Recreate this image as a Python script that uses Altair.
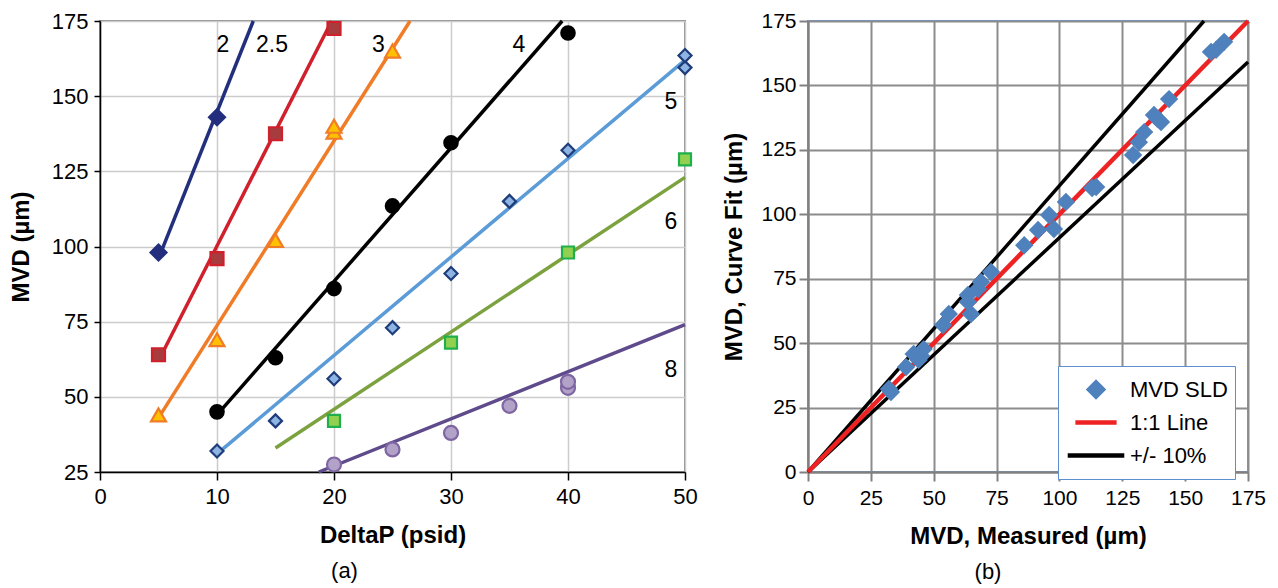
import altair as alt
import pandas as pd

FONT = "Liberation Sans"

# ---------------- panel (a): MVD vs DeltaP ----------------
curve_names = ["2", "2.5", "3", "4", "5", "6", "8"]

dp_2 = [5, 10]
mvd_2 = [98, 143]
dp_25 = [5, 10, 15, 20]
mvd_25 = [64, 96, 137.5, 172.5]
dp_3 = [5, 10, 15, 20, 20, 25]
mvd_3 = [44, 69, 102, 138, 140, 165]
dp_4 = [10, 15, 20, 25, 30, 40]
mvd_4 = [45, 63, 86, 113.5, 134.5, 171]
dp_5 = [10, 15, 20, 25, 30, 35, 40, 50, 50]
mvd_5 = [32, 42, 56, 73, 91, 115, 132, 159.5, 163.5]
dp_6 = [20, 30, 40, 50]
mvd_6 = [42, 68, 98, 129]
dp_8 = [20, 25, 30, 35, 40, 40]
mvd_8 = [27.5, 32.5, 38, 47, 53, 55]

# trend lines (start / end)
fit_dp_start = [5, 5, 5, 10, 10, 15, 18.7]
fit_mvd_start = [96, 62, 43, 44, 31, 33, 25]
fit_dp_end = [13.1, 19.8, 26.5, 39.5, 50, 50, 50]
fit_mvd_end = [175, 175, 175, 175, 162, 123, 74]

# curve labels
label_dp = [10.5, 14.7, 23.8, 35.8, 48.8, 48.8, 48.8]
label_mvd = [167, 167, 167, 167, 148, 108, 59]

line_colors = ["#232f7c", "#d0202c", "#f07c28", "#000000", "#5b9bd8", "#7ba23f", "#5f4b8b"]
marker_fills = ["#232f7c", "#a83b3e", "#ffc000", "#000000", "#8db4e2", "#92d050", "#b3a2c7"]
marker_strokes = ["#232f7c", "#d0202c", "#f07c28", "#000000", "#1f3d7a", "#1fb04c", "#7e66a3"]
marker_shapes = ["diamond", "square", "triangle-up", "circle", "diamond", "square", "circle"]
marker_sizes = [256, 169, 225, 180, 169, 144, 196]

# ---------------- panel (b): curve fit vs measured ----------------
measured = [32.2, 33, 39, 42, 44, 46, 45, 56, 53.7, 63.6, 64.8, 67.6, 63.6, 68.8, 72.8,
            86, 91.5, 95.9, 97.8, 102.6, 113, 114.6, 129.3, 131.6, 133.7, 137.6, 139,
            140.4, 143.6, 160.3, 162.3, 165.5]
curve_fit = [32.2, 31, 40.7, 45.8, 43.5, 47.7, 45, 61.3, 57, 66, 61.3, 71, 68.7, 73.7, 77.6,
             88, 93.9, 99.7, 94.3, 104.8, 110.2, 110.6, 123, 128, 131.9, 138.5, 137,
             135.8, 144.7, 163, 163.8, 166.9]

legend_names = ["MVD SLD", "1:1 Line", "+/- 10%"]
legend_colors = ["#4f81bd", "#ee2222", "#000000"]
legend_shapes = ["diamond", "stroke", "stroke"]
legend_sizes = [200, 3200, 3200]

ref_x0 = [0, 0, 0]
ref_y0 = [0, 0, 0]
ref_x1 = [157.5, 175, 175]
ref_y1 = [175, 159.1, 175]
ref_colors = ["#000000", "#000000", "#ee2222"]
ref_widths = [3.5, 3.5, 4.5]

# ---------------- build tables ----------------
pts_rows = []
for name, xs, ys in zip(curve_names,
                        [dp_2, dp_25, dp_3, dp_4, dp_5, dp_6, dp_8],
                        [mvd_2, mvd_25, mvd_3, mvd_4, mvd_5, mvd_6, mvd_8]):
    i = curve_names.index(name)
    for x, y in zip(xs, ys):
        pts_rows.append(dict(dp=x, mvd=y, curve=name, fill=marker_fills[i],
                             stroke=marker_strokes[i], shape=marker_shapes[i],
                             size=marker_sizes[i]))
pts_df = pd.DataFrame(pts_rows)

fit_df = pd.DataFrame(dict(curve=curve_names, x0=fit_dp_start, y0=fit_mvd_start,
                           x1=fit_dp_end, y1=fit_mvd_end, color=line_colors))
lab_df = pd.DataFrame(dict(curve=curve_names, x=label_dp, y=label_mvd))

sld_df = pd.DataFrame(dict(measured=measured, fit=curve_fit, series="MVD SLD"))
ref_df = pd.DataFrame(dict(x0=ref_x0, y0=ref_y0, x1=ref_x1, y1=ref_y1,
                           color=ref_colors, w=ref_widths))

# ---------------- panel (a) ----------------
ax_common = dict(labelFont=FONT, titleFont=FONT, labelColor="#000000", titleColor="#000000",
                 titleFontWeight="bold")

xa = alt.X("dp:Q", scale=alt.Scale(domain=[0, 50], nice=False),
           axis=alt.Axis(values=[0, 10, 20, 30, 40, 50], title="DeltaP (psid)",
                         labelFontSize=22, titleFontSize=24, tickSize=8, labelPadding=6,
                         titlePadding=16, domainColor="#000000", domainWidth=1.5,
                         tickColor="#000000", tickWidth=1.5, gridColor="#cccccc",
                         gridWidth=1.5, labelFlush=False, **ax_common))
ya = alt.Y("mvd:Q", scale=alt.Scale(domain=[25, 175], nice=False),
           axis=alt.Axis(values=[25, 50, 75, 100, 125, 150, 175], title="MVD (µm)",
                         labelFontSize=22, titleFontSize=24, tickSize=6, labelPadding=6,
                         titlePadding=18, domainColor="#000000", domainWidth=1.5,
                         tickColor="#000000", tickWidth=1.5, gridColor="#cccccc",
                         gridWidth=1.5, **ax_common))

fit_lines = alt.Chart(fit_df).mark_rule(strokeWidth=3.5).encode(
    x=xa, y=ya,
    x2="x1:Q", y2="y1:Q",
    color=alt.Color("color:N", scale=None),
).transform_calculate(dp="datum.x0", mvd="datum.y0")

markers = alt.Chart(pts_df).mark_point(filled=True, strokeWidth=2.2, opacity=1).encode(
    x="dp:Q", y="mvd:Q",
    fill=alt.Fill("fill:N", scale=None),
    stroke=alt.Stroke("stroke:N", scale=None),
    shape=alt.Shape("shape:N", scale=None),
    size=alt.Size("size:Q", scale=None),
)

labels = alt.Chart(lab_df).mark_text(font=FONT, fontSize=23, color="#000000",
                                     align="center", baseline="middle").encode(
    x=alt.X("x:Q"), y=alt.Y("y:Q"), text="curve:N")

left = alt.layer(fit_lines, markers, labels).properties(
    width=585, height=451,
    view=alt.ViewBackground(stroke="#8c8c8c", strokeWidth=2),
    title=alt.TitleParams("(a)", orient="bottom", fontSize=22, fontWeight="normal",
                          font=FONT, color="#000000", offset=14, dx=-48),
)

# ---------------- panel (b) ----------------
xb = alt.X("measured:Q", scale=alt.Scale(domain=[0, 175], nice=False),
           axis=alt.Axis(values=[0, 25, 50, 75, 100, 125, 150, 175],
                         title="MVD, Measured (µm)", labelFontSize=21, titleFontSize=24,
                         tickSize=9, labelPadding=6, titlePadding=16,
                         domainColor="#808080", domainWidth=2, tickColor="#808080",
                         tickWidth=2, gridColor="#8c8c8c", gridWidth=2, labelFlush=False,
                         **ax_common))
yb = alt.Y("fit:Q", scale=alt.Scale(domain=[0, 175], nice=False),
           axis=alt.Axis(values=[0, 25, 50, 75, 100, 125, 150, 175],
                         title="MVD, Curve Fit (µm)", labelFontSize=21, titleFontSize=24,
                         tickSize=9, labelPadding=3, titlePadding=14,
                         domainColor="#808080", domainWidth=2, tickColor="#808080",
                         tickWidth=2, gridColor="#8c8c8c", gridWidth=2, **ax_common))

ref_lines = alt.Chart(ref_df).mark_rule().encode(
    x=xb, y=yb, x2="x1:Q", y2="y1:Q",
    color=alt.Color("color:N", scale=None),
    strokeWidth=alt.StrokeWidth("w:Q", scale=None),
).transform_calculate(measured="datum.x0", fit="datum.y0")

leg = alt.Legend(title=None, orient="none", legendX=250, legendY=345,
                 fillColor="#ffffff", strokeColor="#5b8fd0", padding=7,
                 labelFont=FONT, labelFontSize=22, labelColor="#000000",
                 symbolStrokeWidth=4.5, clipHeight=33, rowPadding=0, labelOffset=3)

sld = alt.Chart(sld_df).mark_point(filled=True, strokeWidth=3, opacity=1).encode(
    x="measured:Q", y="fit:Q",
    fill=alt.Fill("series:N", scale=alt.Scale(domain=legend_names, range=legend_colors), legend=leg),
    stroke=alt.Stroke("series:N", scale=alt.Scale(domain=legend_names, range=legend_colors), legend=leg),
    shape=alt.Shape("series:N", scale=alt.Scale(domain=legend_names, range=legend_shapes), legend=leg),
    size=alt.Size("series:N", scale=alt.Scale(domain=legend_names, range=legend_sizes), legend=leg),
)

right = alt.layer(ref_lines, sld).properties(
    width=440, height=451,
    view=alt.ViewBackground(stroke="#6f9bd6", strokeWidth=2),
    title=alt.TitleParams("(b)", orient="bottom", fontSize=22, fontWeight="normal",
                          font=FONT, color="#000000", offset=14, dx=-40),
)

chart = alt.hconcat(left, right, spacing=22).resolve_legend(
    fill="independent", stroke="independent", shape="independent", size="independent",
    color="independent"
).resolve_scale(
    fill="independent", stroke="independent", shape="independent", size="independent",
    color="independent"
).properties(
    padding={"left": 0, "top": 1, "right": 0, "bottom": 0}
).configure(background="#ffffff")

chart.save("out.html", embed_options={"renderer": "svg", "actions": False})
